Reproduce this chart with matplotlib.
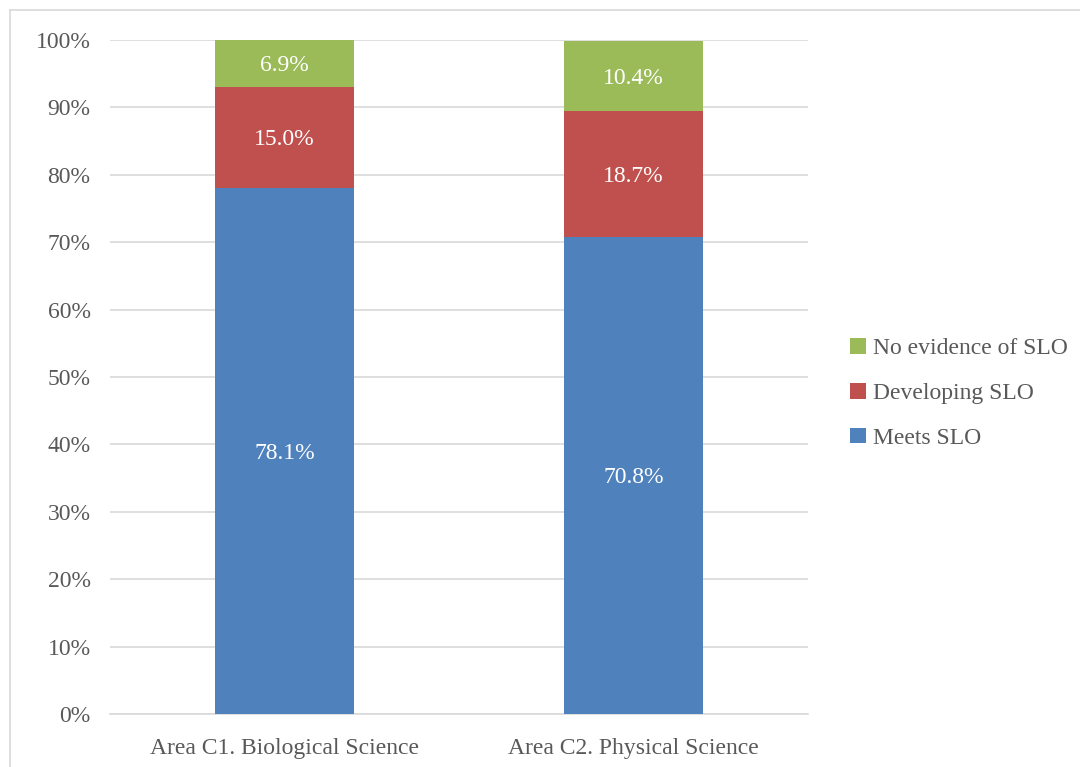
import matplotlib
matplotlib.use('Agg')
import matplotlib.pyplot as plt
from matplotlib.lines import Line2D

categories = ["Area C1. Biological Science", "Area C2. Physical Science"]
meets = [78.1, 70.8]
developing = [15.0, 18.7]
no_evidence = [6.9, 10.4]

COLORS = {"meets": "#4f81bd", "dev": "#c0504d", "none": "#9bbb59"}
TEXT = "#595959"

plt.rcParams['font.family'] = ['Liberation Serif', 'DejaVu Serif']

fig = plt.figure(figsize=(10.8, 7.67), dpi=100)
ax = fig.add_axes([0.1019, 0.0691, 0.6461, 0.8787])

x = range(len(categories))
w = 0.4
b1 = ax.bar(x, meets, width=w, color=COLORS["meets"], label="Meets SLO", zorder=3)
bottom2 = meets
b2 = ax.bar(x, developing, width=w, bottom=bottom2, color=COLORS["dev"], label="Developing SLO", zorder=3)
bottom3 = [m + d for m, d in zip(meets, developing)]
b3 = ax.bar(x, no_evidence, width=w, bottom=bottom3, color=COLORS["none"], label="No evidence of SLO", zorder=3)

for bars in (b1, b2, b3):
    labels = ax.bar_label(bars, labels=[f"{v:.1f}%" for v in bars.datavalues],
                          label_type='center', color='white', fontsize=17)
    for t in labels:
        t.set_va('center_baseline')

ax.set_xlim(-0.5, 1.5)
ax.set_ylim(0, 100)
ax.set_yticks(range(0, 101, 10))
ax.set_yticklabels([f"{t}%" for t in range(0, 101, 10)])
ax.set_xticks(list(x))
ax.set_xticklabels(categories)
ax.tick_params(axis='both', length=0, labelsize=17, colors=TEXT)
ax.tick_params(axis='y', pad=14)
ax.tick_params(axis='x', pad=17)
ax.yaxis.grid(True, color='#d9d9d9', linewidth=1.2, zorder=0)
for s in ('top', 'right', 'left'):
    ax.spines[s].set_visible(False)
ax.spines['bottom'].set_color('#d9d9d9')
ax.spines['bottom'].set_linewidth(1.2)

handles = [b3, b2, b1]
leg = fig.legend(handles, [h.get_label() for h in handles], loc='center left',
                 bbox_to_anchor=(0.783, 0.487), frameon=False, fontsize=17,
                 handlelength=0.65, handleheight=0.65, handletextpad=0.3, labelspacing=1.0,
                 borderpad=0.2, borderaxespad=0)
for t in leg.get_texts():
    t.set_color(TEXT)

# chart area border
fig.add_artist(Line2D([10 / 1080, 10 / 1080], [0, 1 - 10 / 767], color='#d9d9d9', lw=1.2))
fig.add_artist(Line2D([10 / 1080, 1], [1 - 10 / 767, 1 - 10 / 767], color='#d9d9d9', lw=1.2))

fig.savefig("out.png", dpi=100)
